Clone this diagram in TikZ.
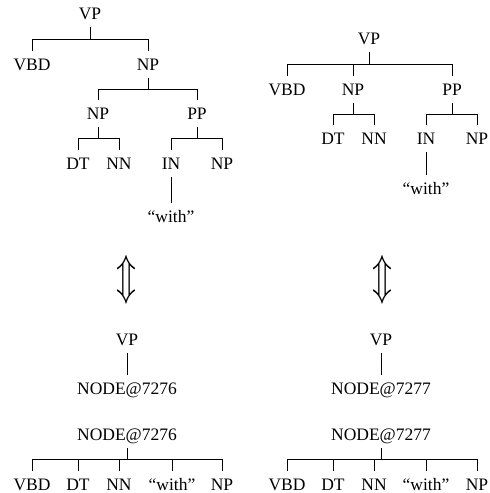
\documentclass[tikz,border=0pt]{standalone}
\usepackage{fontspec}
\setmainfont{Liberation Serif}
\usetikzlibrary{calc}
\tikzset{
    cat/.style={anchor=base, font=\fontsize{17.5}{21}\selectfont, inner xsep=1pt, inner ysep=5pt, text height=14pt, text depth=3pt},
    leaf/.style={cat, inner ysep=0pt, text height=19pt, text depth=0pt},
    branch/.style={to path={(\tikztostart.south) -- ($(\tikztostart.south)!0.5!(\tikztostart.south |- \tikztotarget.north)$) -| (\tikztotarget.north)}},
    link/.style={to path={(\tikztostart.south) -- (\tikztotarget.north)}},
    swap/.style={inner sep=0pt}
}

\begin{document}
\begin{tikzpicture}[x=1pt, y=-1pt, line width=0.6pt]
    \useasboundingbox (0,0) rectangle (490,493);

    % Left tree
    \node[cat] (lvp) at (90,19) {VP};
    \node[cat] (lvbd) at (32,70) {VBD};
    \node[cat] (lnp) at (148,70) {NP};
    \node[cat] (lnpa) at (98,119) {NP};
    \node[cat] (lpp) at (197,119) {PP};
    \node[cat] (ldt) at (78,169) {DT};
    \node[cat] (lnn) at (119,169) {NN};
    \node[cat] (lin) at (171,169) {IN};
    \node[cat] (lnpb) at (222,169) {NP};
    \node[cat] (lwith) at (171,222) {“with”};
    \draw (lvp) to[branch] (lvbd) (lvp) to[branch] (lnp);
    \draw (lnp) to[branch] (lnpa) (lnp) to[branch] (lpp);
    \draw (lnpa) to[branch] (ldt) (lnpa) to[branch] (lnn);
    \draw (lpp) to[branch] (lin) (lpp) to[branch] (lnpb);
    \draw (lin) to[link] (lwith);

    % Right tree
    \node[cat] (rvp) at (369,44) {VP};
    \node[cat] (rvbd) at (287,95) {VBD};
    \node[cat] (rnp) at (353,95) {NP};
    \node[cat] (rpp) at (452,95) {PP};
    \node[cat] (rdt) at (333,144) {DT};
    \node[cat] (rnn) at (374,144) {NN};
    \node[cat] (rin) at (426,144) {IN};
    \node[cat] (rnpb) at (477,144) {NP};
    \node[cat] (rwith) at (426,194) {“with”};
    \draw (rvp) to[branch] (rvbd) (rvp) to[branch] (rnp) (rvp) to[branch] (rpp);
    \draw (rnp) to[branch] (rdt) (rnp) to[branch] (rnn);
    \draw (rpp) to[branch] (rin) (rpp) to[branch] (rnpb);
    \draw (rin) to[link] (rwith);

    % Equivalence arrows
    \node[swap] (larrow) at (127,280) {\resizebox{20pt}{35pt}{$\Updownarrow$}};
    \node[swap] (rarrow) at (382,280) {\resizebox{20pt}{35pt}{$\Updownarrow$}};

    % Left rewrite
    \node[cat] (lbvp) at (127,345) {VP};
    \node[cat] (lbnode) at (127,394) {NODE@7276};
    \draw (lbvp) to[link] (lbnode);
    \node[cat] (lbtop) at (127,440) {NODE@7276};
    \node[leaf] (lbvbd) at (32,490) {VBD};
    \node[leaf] (lbdt) at (78,490) {DT};
    \node[leaf] (lbnn) at (119,490) {NN};
    \node[leaf] (lbwith) at (172,490) {“with”};
    \node[leaf] (lbnp) at (222,490) {NP};
    \foreach \c in {lbvbd,lbdt,lbnn,lbwith,lbnp}
        \draw (lbtop) to[branch] (\c);

    % Right rewrite
    \node[cat] (rbvp) at (381,345) {VP};
    \node[cat] (rbnode) at (381,394) {NODE@7277};
    \draw (rbvp) to[link] (rbnode);
    \node[cat] (rbtop) at (381,440) {NODE@7277};
    \node[leaf] (rbvbd) at (287,490) {VBD};
    \node[leaf] (rbdt) at (333,490) {DT};
    \node[leaf] (rbnn) at (374,490) {NN};
    \node[leaf] (rbwith) at (426,490) {“with”};
    \node[leaf] (rbnp) at (477,490) {NP};
    \foreach \c in {rbvbd,rbdt,rbnn,rbwith,rbnp}
        \draw (rbtop) to[branch] (\c);
\end{tikzpicture}
\end{document}
